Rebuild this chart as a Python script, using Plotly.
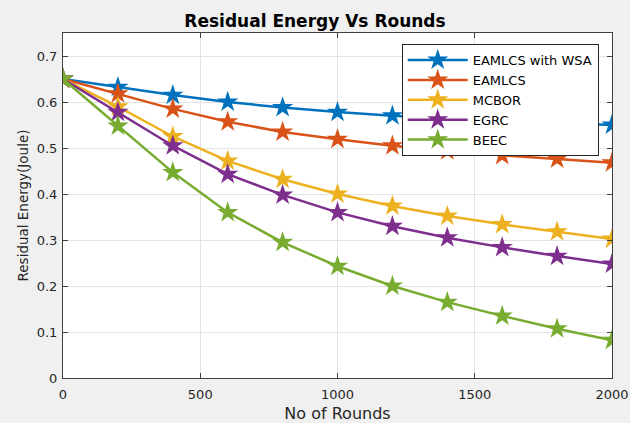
import plotly.graph_objects as go

rounds = [0, 200, 400, 600, 800, 1000, 1200, 1400, 1600, 1800, 2000]
eamlcs_wsa = [0.65, 0.632, 0.615, 0.600, 0.588, 0.578, 0.570, 0.564, 0.559, 0.555, 0.550]
eamlcs = [0.65, 0.618, 0.585, 0.557, 0.535, 0.519, 0.505, 0.494, 0.484, 0.476, 0.468]
mcbor = [0.65, 0.590, 0.525, 0.472, 0.432, 0.400, 0.374, 0.352, 0.334, 0.318, 0.302]
egrc = [0.65, 0.578, 0.505, 0.443, 0.398, 0.360, 0.330, 0.305, 0.284, 0.265, 0.248]
beec = [0.65, 0.548, 0.447, 0.360, 0.295, 0.243, 0.200, 0.165, 0.135, 0.107, 0.082]

series_names = ["EAMLCS with WSA", "EAMLCS", "MCBOR", "EGRC", "BEEC"]
series_values = [eamlcs_wsa, eamlcs, mcbor, egrc, beec]
colors = ["#0072BD", "#D95319", "#EDB120", "#7E2F8E", "#77AC30"]

FONT = "DejaVu Sans"

fig = go.Figure()
for name, vals, col in zip(series_names, series_values, colors):
    fig.add_trace(go.Scatter(
        x=rounds, y=vals, name=name, mode="lines+markers",
        line=dict(color=col, width=2.5),
        marker=dict(symbol="star", size=16, color=col, line=dict(width=0)),
    ))

axis_common = dict(
    showline=True, linecolor="#404040", linewidth=1, mirror="ticks",
    ticks="inside", ticklen=5, tickcolor="#404040",
    showgrid=True, gridcolor="#e3e3e3", gridwidth=1, zeroline=False,
    tickfont=dict(family=FONT, size=13, color="#262626"),
)

fig.update_layout(
    width=630, height=423,
    paper_bgcolor="#f0f0f0", plot_bgcolor="white",
    margin=dict(l=63, r=18, t=33, b=45),
    title=dict(text="<b>Residual Energy Vs Rounds</b>", x=0.5, xanchor="center",
               y=0.95, yanchor="middle",
               font=dict(family=FONT, size=17, color="#000")),
    xaxis=dict(range=[0, 2000], tickvals=[0, 500, 1000, 1500, 2000],
               ticklabelstandoff=4, automargin=False,
               title=dict(text="No of Rounds",
                          font=dict(family=FONT, size=16, color="#262626")),
               **axis_common),
    yaxis=dict(range=[0, 0.75], tickvals=[0, 0.1, 0.2, 0.3, 0.4, 0.5, 0.6, 0.7],
               ticklabelstandoff=2, automargin=True,
               title=dict(text="Residual Energy(Joule)", standoff=4,
                          font=dict(family=FONT, size=13.5, color="#262626")),
               **axis_common),
    legend=dict(x=0.617, y=0.968, xanchor="left", yanchor="top",
                bgcolor="white", bordercolor="#262626", borderwidth=1,
                font=dict(family=FONT, size=13, color="#000"),
                itemwidth=60, tracegroupgap=0),
    showlegend=True,
)

fig.write_html("out.html", config={"displayModeBar": False},
               post_script="document.body.style.margin='0';document.body.style.overflow='hidden';")
